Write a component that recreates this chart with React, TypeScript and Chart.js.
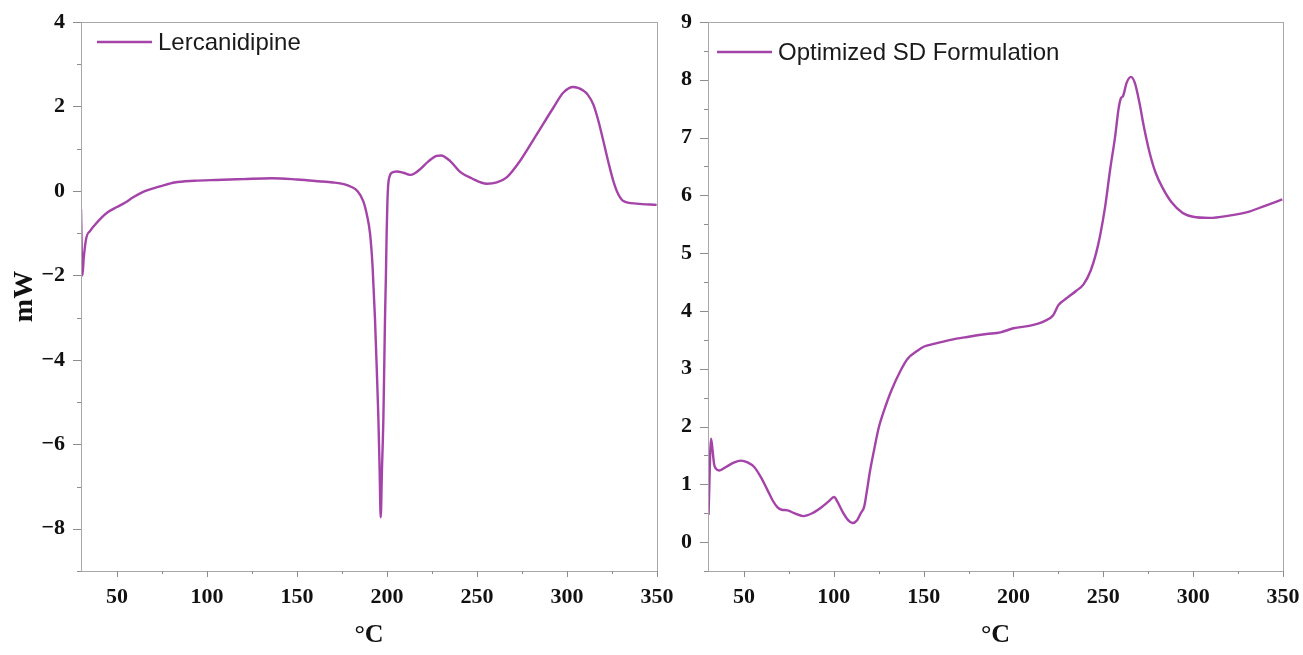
import React, { useEffect, useRef } from 'react';
import { Chart, registerables } from 'chart.js';

Chart.register(...registerables);

// ---- Data ----
const lercTemp = [
  30, 30.8, 31.5, 33, 35, 37.8, 41, 45, 50, 54.4, 59, 63.7, 68, 75, 82, 93, 105, 120, 136, 150,
  162, 170, 176, 180, 183.5, 186.8, 189, 190.6, 192, 193.3, 194.3, 195.2, 195.9, 196.5, 197.2,
  198, 198.9, 199.4, 199.8, 200.2, 200.7, 201.5, 202.6, 205.4, 209, 212.8, 215.5, 218.3, 223,
  227.6, 230, 235, 240.6, 247, 255.4, 261, 266.5, 273.9, 283.2, 292.4, 298, 303.5, 309, 311.5,
  314.6, 317.5, 320.2, 323, 325.7, 328.5, 331.3, 338.7, 349.8,
];
const lercMw = [
  -0.43, -2.0, -1.6, -1.1, -0.95, -0.8, -0.65, -0.5, -0.38, -0.28, -0.15, -0.04, 0.03, 0.12, 0.2,
  0.24, 0.26, 0.28, 0.3, 0.27, 0.23, 0.2, 0.16, 0.1, 0.0, -0.24, -0.6, -1.02, -1.8, -3.0, -4.2,
  -5.37, -6.6, -7.73, -6.6, -5.37, -3.0, -2.0, -1.0, -0.3, 0.16, 0.35, 0.43, 0.46, 0.43, 0.38,
  0.42, 0.51, 0.7, 0.83, 0.84, 0.71, 0.45, 0.3, 0.17, 0.2, 0.32, 0.71, 1.34, 1.97, 2.33, 2.46,
  2.38, 2.28, 2.05, 1.65, 1.18, 0.68, 0.24, -0.08, -0.24, -0.3, -0.33,
];

const sdTemp = [
  30.3, 31.7, 32.5, 33.4, 34.4, 36.3, 40, 44, 48.3, 52, 55.7, 59.5, 63.1, 66, 68.7, 71, 74.3, 78,
  83, 88, 93, 97, 100.2, 102, 105, 108, 110.4, 113, 115, 116.9, 118.5, 120, 122.4, 125, 128, 132,
  137.2, 141, 146.5, 150, 155.7, 165, 174.3, 185, 192.8, 200, 210, 217, 222, 225, 230, 235, 239,
  243, 246, 248.3, 251, 253.9, 256.5, 258.5, 259.8, 261, 263, 265.4, 267.5, 270, 272.5, 275.6,
  279, 283, 288, 294, 300, 309, 320, 331.2, 340, 349.6,
];
const sdMw = [
  0.47, 1.79, 1.6, 1.35, 1.27, 1.24, 1.3, 1.37, 1.41, 1.38, 1.3, 1.12, 0.9, 0.72, 0.6, 0.56, 0.55,
  0.5, 0.45, 0.5, 0.6, 0.7, 0.78, 0.7, 0.52, 0.38, 0.33, 0.38, 0.5, 0.61, 0.9, 1.2, 1.59, 1.98,
  2.28, 2.62, 2.97, 3.17, 3.31, 3.38, 3.43, 3.5, 3.55, 3.6, 3.63, 3.7, 3.75, 3.82, 3.92, 4.1,
  4.23, 4.35, 4.46, 4.7, 5.0, 5.32, 5.8, 6.47, 7.0, 7.5, 7.68, 7.72, 7.95, 8.05, 7.95, 7.62, 7.2,
  6.76, 6.4, 6.13, 5.88, 5.7, 5.63, 5.61, 5.65, 5.72, 5.82, 5.93,
];

const xMajorTicks = [50, 100, 150, 200, 250, 300, 350];
const xMinorTicks = [75, 125, 175, 225, 275, 325];
const leftYMajorTicks = [-8, -6, -4, -2, 0, 2, 4];
const leftYMinorTicks = [-9, -7, -5, -3, -1, 1, 3];
const rightYMajorTicks = [0, 1, 2, 3, 4, 5, 6, 7, 8, 9];
const rightYMinorTicks = [-0.5, 0.5, 1.5, 2.5, 3.5, 4.5, 5.5, 6.5, 7.5, 8.5];

const leftLabel = 'Lercanidipine';
const rightLabel = 'Optimized SD Formulation';
const xTitle = '°C';
const yTitle = 'mW';

// ---- Styles ----
const LINE_COLOR = '#a443a8';
const AXIS_COLOR = '#a8a8a8';
const TICK_COLOR = '#8c8c8c';
const SERIF = "'Liberation Serif', 'Times New Roman', serif";
const SANS = "'Liberation Sans', Arial, sans-serif";
const W = 1303;
const H = 655;

function fmt(v: number): string {
  return v < 0 ? '\u2212' + Math.abs(v) : String(v);
}

const frameTicksPlugin = {
  id: 'frameTicks',
  afterDraw(chart: any, _args: any, opts: any) {
    const { ctx, chartArea: a, scales } = chart;
    ctx.save();
    // frame
    ctx.strokeStyle = AXIS_COLOR;
    ctx.lineWidth = 1;
    ctx.strokeRect(Math.round(a.left) + 0.5, Math.round(a.top) + 0.5, Math.round(a.right - a.left), Math.round(a.bottom - a.top));
    // tick marks
    ctx.strokeStyle = TICK_COLOR;
    ctx.beginPath();
    const xs = scales.x;
    xs.ticks.forEach((t: any) => {
      const major = opts.xMajor.includes(t.value);
      const px = Math.round(xs.getPixelForValue(t.value)) + 0.5;
      ctx.moveTo(px, a.bottom);
      ctx.lineTo(px, a.bottom + (major ? 6 : 3));
    });
    const ys = scales.y;
    ys.ticks.forEach((t: any) => {
      const major = opts.yMajor.includes(t.value);
      const py = Math.round(ys.getPixelForValue(t.value)) + 0.5;
      ctx.moveTo(a.left, py);
      ctx.lineTo(a.left - (major ? 8 : 4), py);
    });
    ctx.stroke();
    // legend
    const ds = chart.data.datasets[0];
    const lx = a.left + opts.legendX;
    const ly = a.top + opts.legendY;
    ctx.strokeStyle = ds.borderColor;
    ctx.lineWidth = 2.5;
    ctx.beginPath();
    ctx.moveTo(lx, ly);
    ctx.lineTo(lx + 55, ly);
    ctx.stroke();
    ctx.fillStyle = '#1a1a1a';
    ctx.font = `24px ${SANS}`;
    ctx.textBaseline = 'middle';
    ctx.textAlign = 'left';
    ctx.fillText(ds.label, lx + 61, ly + 1);
    ctx.restore();
  },
};

function makeConfig(p: {
  temps: number[];
  vals: number[];
  label: string;
  yMin: number;
  yMax: number;
  yMajor: number[];
  yMinor: number[];
  padLeft: number;
  padRight: number;
  yWidth: number;
  showYTitle: boolean;
  legendX: number;
  legendY: number;
}): any {
  const tickFont = { family: SERIF, size: 22, weight: 'bold' as const };
  const xTicks = [...xMajorTicks, ...xMinorTicks].sort((a, b) => a - b);
  const yTicks = [...p.yMajor, ...p.yMinor].sort((a, b) => a - b);
  return {
    type: 'line',
    data: {
      datasets: [
        {
          label: p.label,
          data: p.temps.map((t, i) => ({ x: t, y: p.vals[i] })),
          borderColor: LINE_COLOR,
          borderWidth: 2.4,
          pointRadius: 0,
          fill: false,
          cubicInterpolationMode: 'monotone',
        },
      ],
    },
    options: {
      responsive: false,
      animation: false,
      devicePixelRatio: 1,
      layout: { padding: { left: p.padLeft, right: p.padRight, top: 22, bottom: 0 } },
      plugins: {
        legend: { display: false },
        tooltip: { enabled: false },
        frameTicks: { xMajor: xMajorTicks, yMajor: p.yMajor, legendX: p.legendX, legendY: p.legendY },
      },
      scales: {
        x: {
          type: 'linear',
          min: 30,
          max: 350,
          grid: { display: true, drawOnChartArea: false, drawTicks: true, tickLength: 13, tickColor: 'rgba(0,0,0,0)' },
          border: { display: false },
          afterBuildTicks: (s: any) => {
            s.ticks = xTicks.map((v) => ({ value: v }));
          },
          afterFit: (s: any) => {
            s.height = 84;
          },
          ticks: {
            autoSkip: false,
            maxRotation: 0,
            padding: 0,
            color: '#111',
            font: tickFont,
            callback: (v: number) => (xMajorTicks.includes(v) ? String(v) : ''),
          },
          title: {
            display: true,
            text: xTitle,
            color: '#111',
            font: { family: SERIF, size: 26, weight: 'bold' },
            padding: { top: 0, bottom: 4 },
          },
        },
        y: {
          type: 'linear',
          min: p.yMin,
          max: p.yMax,
          grid: { display: true, drawOnChartArea: false, drawTicks: true, tickLength: 16, tickColor: 'rgba(0,0,0,0)' },
          border: { display: false },
          afterBuildTicks: (s: any) => {
            s.ticks = yTicks.map((v) => ({ value: v }));
          },
          afterFit: (s: any) => {
            s.width = p.yWidth;
          },
          ticks: {
            autoSkip: false,
            padding: 0,
            color: '#111',
            font: tickFont,
            callback: (v: number) => (p.yMajor.includes(v) ? fmt(v) : ''),
          },
          title: {
            display: p.showYTitle,
            text: yTitle,
            color: '#111',
            font: { family: SERIF, size: 28, weight: 'bold' },
            padding: { top: 8, bottom: 0 },
          },
        },
      },
    },
    plugins: [frameTicksPlugin],
  };
}

export default function App() {
  const leftRef = useRef<HTMLCanvasElement>(null);
  const rightRef = useRef<HTMLCanvasElement>(null);

  useEffect(() => {
    const left = new Chart(
      leftRef.current as HTMLCanvasElement,
      makeConfig({
        temps: lercTemp,
        vals: lercMw,
        label: leftLabel,
        yMin: -9,
        yMax: 4,
        yMajor: leftYMajorTicks,
        yMinor: leftYMinorTicks,
        padLeft: 0,
        padRight: W - 657,
        yWidth: 81,
        showYTitle: true,
        legendX: 16,
        legendY: 20,
      })
    );
    const right = new Chart(
      rightRef.current as HTMLCanvasElement,
      makeConfig({
        temps: sdTemp,
        vals: sdMw,
        label: rightLabel,
        yMin: -0.5,
        yMax: 9,
        yMajor: rightYMajorTicks,
        yMinor: rightYMinorTicks,
        padLeft: 648,
        padRight: W - 1283,
        yWidth: 60,
        showYTitle: false,
        legendX: 9,
        legendY: 30,
      })
    );
    return () => {
      left.destroy();
      right.destroy();
    };
  }, []);

  const cStyle: React.CSSProperties = { position: 'absolute', left: 0, top: 0 };
  return (
    <div style={{ position: 'absolute', left: 0, top: 0, width: W, height: H, background: '#fff' }}>
      <canvas ref={leftRef} width={W} height={H} style={cStyle} />
      <canvas ref={rightRef} width={W} height={H} style={cStyle} />
    </div>
  );
}
